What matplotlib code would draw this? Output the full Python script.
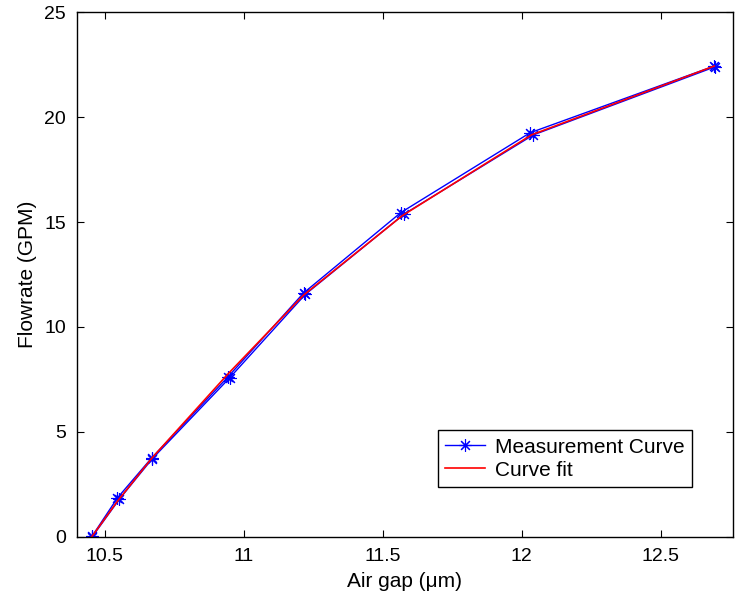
import matplotlib.pyplot as plt

plt.rcParams['font.family'] = ['Liberation Sans', 'DejaVu Sans']

# two measurement passes and the fitted curve
gap_run1 = [10.452, 10.545, 10.668, 10.944, 11.215, 11.565, 12.030, 12.693]
flow_run1 = [0.00, 1.86, 3.76, 7.64, 11.62, 15.45, 19.25, 22.43]
gap_run2 = [10.455, 10.552, 10.670, 10.949, 11.221, 11.577, 12.042, 12.697]
flow_run2 = [0.02, 1.80, 3.72, 7.58, 11.55, 15.38, 19.15, 22.40]
gap_fit = [10.452, 10.545, 10.668, 10.944, 11.215, 11.570, 12.035, 12.693]
flow_fit = [0.00, 1.70, 3.74, 7.78, 11.52, 15.30, 19.15, 22.43]

xticks = [10.5, 11, 11.5, 12, 12.5]
yticks = [0, 5, 10, 15, 20, 25]

fig = plt.figure(figsize=(7.35, 6.06), dpi=100)
ax = fig.add_axes([0.105, 0.114, 0.892, 0.866])

star = (8, 2, 0)
ax.plot(gap_run1, flow_run1, color='blue', lw=1, marker=star, ms=9, mew=0.8,
        label='Measurement Curve')
ax.plot(gap_run2, flow_run2, color='blue', lw=1, marker=star, ms=9, mew=0.8)
ax.plot(gap_fit, flow_fit, color='red', lw=1.2, label='Curve fit')

ax.set_xlim(10.4, 12.76)
ax.set_ylim(0, 25)
ax.set_xticks(xticks)
ax.set_xticklabels(['10.5', '11', '11.5', '12', '12.5'])
ax.set_yticks(yticks)
ax.tick_params(direction='in', top=True, right=True, labelsize=14, length=5, pad=8)
for s in ax.spines.values():
    s.set_linewidth(1)

ax.set_xlabel('Air gap (μm)', fontsize=15, labelpad=5)
ax.set_ylabel('Flowrate (GPM)', fontsize=15, labelpad=5)

leg = ax.legend(loc='lower left', bbox_to_anchor=(0.55, 0.095), borderaxespad=0,
                fontsize=15, fancybox=False, edgecolor='black', framealpha=1,
                handlelength=1.9, handletextpad=0.5, borderpad=0.35,
                labelspacing=0.2)
leg.get_frame().set_linewidth(1)

fig.savefig('out.png', dpi=100)
